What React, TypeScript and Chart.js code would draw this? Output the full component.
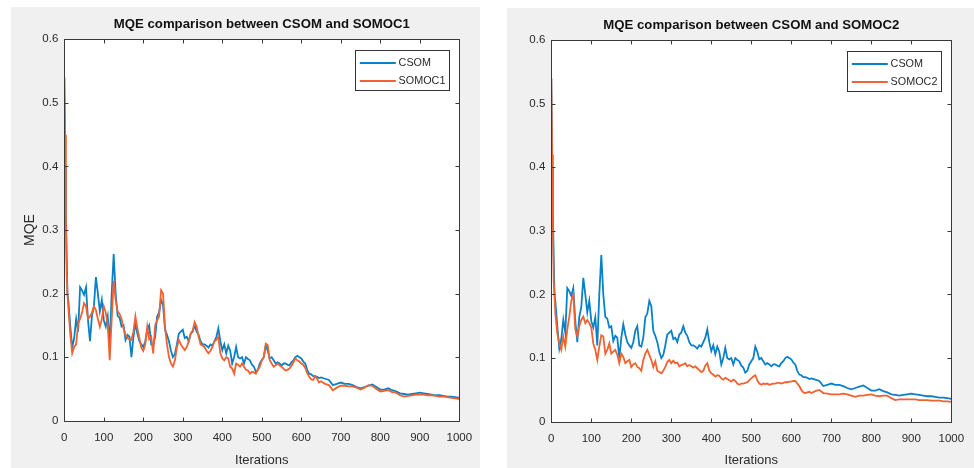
import React, { useEffect, useRef } from 'react';
import { Chart, registerables } from 'chart.js';

Chart.register(...registerables);

// ---------------- data ----------------
const ITERATIONS = [
  0, 2, 4, 6, 8, 10,
  15, 20, 25, 30, 35, 40, 45, 50, 55, 60,
  65, 70, 75, 80, 85, 90, 95, 100, 105, 110,
  115, 120, 125, 130, 135, 140, 145, 150, 155, 160,
  165, 170, 175, 180, 185, 190, 195, 200, 205, 210,
  215, 220, 225, 230, 235, 240, 245, 250, 255, 260,
  265, 270, 275, 280, 285, 290, 295, 300, 305, 310,
  315, 320, 325, 330, 335, 340, 345, 350, 355, 360,
  365, 370, 375, 380, 385, 390, 395, 400, 405, 410,
  415, 420, 425, 430, 435, 440, 445, 450, 455, 460,
  465, 470, 475, 480, 485, 490, 495, 500, 505, 510,
  515, 520, 525, 530, 535, 540, 545, 550, 555, 560,
  565, 570, 575, 580, 585, 590, 595, 600, 605, 610,
  615, 620, 625, 630, 635, 640, 645, 650,
  660, 670, 680, 690, 700, 710, 720, 730, 740, 750,
  760, 770, 780, 790, 800, 810, 820, 830, 840, 850,
  860, 870, 880, 890, 900, 910, 920, 930, 940, 950,
  960, 970, 980, 990, 1000,
];

const CSOM = [
  0.54, 0.40, 0.33, 0.26, 0.20, 0.19,
  0.15, 0.115, 0.13, 0.16, 0.14, 0.21, 0.205, 0.198, 0.21, 0.158,
  0.125, 0.165, 0.18, 0.226, 0.2, 0.172, 0.19, 0.158, 0.148, 0.164,
  0.12, 0.2, 0.262, 0.2, 0.165, 0.162, 0.148, 0.15, 0.127, 0.135,
  0.132, 0.1, 0.132, 0.153, 0.137, 0.125, 0.12, 0.116, 0.125, 0.143,
  0.15, 0.12, 0.118, 0.132, 0.164, 0.17, 0.19, 0.182, 0.143, 0.135,
  0.125, 0.11, 0.1, 0.105, 0.12, 0.137, 0.14, 0.143, 0.13, 0.132,
  0.125, 0.137, 0.14, 0.15, 0.14, 0.135, 0.125, 0.12, 0.12, 0.118,
  0.115, 0.12, 0.118, 0.125, 0.132, 0.145, 0.125, 0.111, 0.12, 0.106,
  0.118, 0.11, 0.09, 0.1, 0.116, 0.1, 0.098, 0.1, 0.09, 0.1,
  0.097, 0.095, 0.088, 0.085, 0.077, 0.08, 0.09, 0.095, 0.1, 0.118,
  0.11, 0.098, 0.1, 0.095, 0.09, 0.092, 0.09, 0.087, 0.09, 0.09,
  0.088, 0.087, 0.092, 0.095, 0.1, 0.102, 0.1, 0.098, 0.093, 0.09,
  0.08, 0.074, 0.073, 0.07, 0.07, 0.069, 0.067, 0.068,
  0.066, 0.064, 0.056, 0.058, 0.06, 0.058, 0.058, 0.056, 0.053, 0.051,
  0.053, 0.055, 0.057, 0.053, 0.049, 0.049, 0.051, 0.048, 0.046, 0.043,
  0.042, 0.041, 0.042, 0.043, 0.044, 0.043, 0.042, 0.041, 0.04, 0.04,
  0.039, 0.038, 0.038, 0.037, 0.036,
];

const SOMOC1 = [
  0.54, 0.45, 0.32, 0.23, 0.20, 0.18,
  0.137, 0.106, 0.116, 0.12, 0.153, 0.16, 0.17, 0.185, 0.18, 0.16,
  0.164, 0.17, 0.18, 0.174, 0.16, 0.148, 0.16, 0.18, 0.17, 0.15,
  0.095, 0.16, 0.22, 0.19, 0.172, 0.168, 0.16, 0.145, 0.135, 0.13,
  0.128, 0.127, 0.14, 0.164, 0.145, 0.13, 0.115, 0.11, 0.12, 0.148,
  0.128, 0.132, 0.106, 0.15, 0.158, 0.164, 0.205, 0.2, 0.148, 0.12,
  0.1, 0.09, 0.085, 0.095, 0.115, 0.127, 0.12, 0.115, 0.111, 0.116,
  0.125, 0.137, 0.142, 0.155, 0.148, 0.132, 0.12, 0.118, 0.116, 0.11,
  0.106, 0.11, 0.116, 0.125, 0.127, 0.132, 0.106, 0.098, 0.095, 0.1,
  0.098, 0.085, 0.082, 0.074, 0.09, 0.088, 0.085, 0.09, 0.085, 0.08,
  0.079, 0.074, 0.077, 0.076, 0.074, 0.08, 0.085, 0.095, 0.1, 0.121,
  0.119, 0.095, 0.09, 0.085, 0.087, 0.09, 0.087, 0.085, 0.082, 0.079,
  0.08, 0.082, 0.086, 0.092, 0.098, 0.095, 0.093, 0.09, 0.088, 0.083,
  0.075, 0.069, 0.065, 0.064, 0.07, 0.066, 0.06, 0.062,
  0.058, 0.056, 0.048, 0.052, 0.055, 0.055, 0.054, 0.054, 0.052, 0.049,
  0.052, 0.056, 0.055, 0.05, 0.046, 0.047, 0.048, 0.045, 0.044, 0.04,
  0.038, 0.039, 0.04, 0.041, 0.041, 0.041, 0.04, 0.04, 0.039, 0.038,
  0.038, 0.037, 0.036, 0.035, 0.034,
];

const SOMOC2 = [
  0.54, 0.42, 0.30, 0.22, 0.20, 0.17,
  0.139, 0.123, 0.113, 0.134, 0.118, 0.145, 0.165, 0.19, 0.2, 0.145,
  0.134, 0.15, 0.16, 0.165, 0.155, 0.16, 0.155, 0.148, 0.123, 0.113,
  0.097, 0.118, 0.136, 0.134, 0.107, 0.113, 0.123, 0.107, 0.11, 0.113,
  0.105, 0.092, 0.107, 0.102, 0.092, 0.095, 0.097, 0.086, 0.09, 0.092,
  0.086, 0.084, 0.08, 0.097, 0.107, 0.113, 0.105, 0.097, 0.086, 0.095,
  0.08, 0.078, 0.076, 0.08, 0.086, 0.094, 0.097, 0.092, 0.096, 0.092,
  0.093, 0.087, 0.089, 0.09, 0.092, 0.087, 0.089, 0.087, 0.085, 0.087,
  0.084, 0.081, 0.078, 0.08, 0.088, 0.092, 0.08, 0.076, 0.074, 0.071,
  0.073, 0.072, 0.068, 0.066, 0.069, 0.067, 0.065, 0.063, 0.066, 0.064,
  0.06, 0.058, 0.06, 0.06, 0.061, 0.062, 0.065, 0.068, 0.071, 0.073,
  0.065, 0.06, 0.058, 0.06, 0.059, 0.06, 0.058, 0.059, 0.06, 0.06,
  0.061, 0.061, 0.06, 0.061, 0.062, 0.062, 0.063, 0.063, 0.064, 0.064,
  0.06, 0.056, 0.05, 0.046, 0.045, 0.046, 0.047, 0.045,
  0.048, 0.05, 0.045, 0.044, 0.043, 0.043, 0.043, 0.044, 0.043, 0.041,
  0.039, 0.041, 0.041, 0.042, 0.043, 0.041, 0.04, 0.041, 0.041, 0.037,
  0.034, 0.035, 0.035, 0.035, 0.035, 0.035, 0.034, 0.034, 0.034, 0.033,
  0.033, 0.033, 0.032, 0.032, 0.031,
];

const X_TICKS = [0, 100, 200, 300, 400, 500, 600, 700, 800, 900, 1000];
const X_TICK_LABELS = ['0', '100', '200', '300', '400', '500', '600', '700', '800', '900', '1000'];
const Y_TICKS = [0, 0.1, 0.2, 0.3, 0.4, 0.5, 0.6];
const Y_TICK_LABELS = ['0', '0.1', '0.2', '0.3', '0.4', '0.5', '0.6'];

const TITLE_1 = 'MQE comparison between CSOM and SOMOC1';
const TITLE_2 = 'MQE comparison between CSOM and SOMOC2';
const X_TITLE = 'Iterations';
const Y_TITLE = 'MQE';

// ---------------- styling ----------------
const FONT = '"Liberation Sans", Arial, Helvetica, sans-serif';
const BLUE = '#0a80c8';
const ORANGE = '#f0622f';
const TEXT = '#2a2a2a';
const AXIS = '#3a3a3a';

type PanelProps = {
  left: number;
  top: number;
  width: number;
  height: number;
  title: string;
  otherLabel: string;
  otherValues: number[];
  showYTitle: boolean;
  padLeft: number;
  yWidth: number;
  xHeight: number;
  padTop: number;
  padRight: number;
};

function Panel(p: PanelProps) {
  const ref = useRef<HTMLCanvasElement | null>(null);

  useEffect(() => {
    if (!ref.current) return;

    const decor = {
      id: 'decor',
      beforeDraw(chart: any) {
        const { ctx, chartArea: ca } = chart;
        ctx.save();
        ctx.fillStyle = '#ffffff';
        ctx.fillRect(ca.left, ca.top, ca.right - ca.left, ca.bottom - ca.top);
        ctx.restore();
      },
      afterDraw(chart: any) {
        const { ctx, chartArea: ca } = chart;
        const xs = chart.scales.x;
        const ys = chart.scales.y;
        ctx.save();
        // frame
        ctx.strokeStyle = AXIS;
        ctx.lineWidth = 1;
        const L = Math.round(ca.left) + 0.5;
        const R = Math.round(ca.right) + 0.5;
        const T = Math.round(ca.top) + 0.5;
        const B = Math.round(ca.bottom) + 0.5;
        ctx.strokeRect(L, T, R - L, B - T);
        // inward ticks on all sides
        const tl = 4;
        ctx.beginPath();
        X_TICKS.forEach((v) => {
          const x = Math.round(xs.getPixelForValue(v)) + 0.5;
          ctx.moveTo(x, B);
          ctx.lineTo(x, B - tl);
          ctx.moveTo(x, T);
          ctx.lineTo(x, T + tl);
        });
        Y_TICKS.forEach((v) => {
          const y = Math.round(ys.getPixelForValue(v)) + 0.5;
          ctx.moveTo(L, y);
          ctx.lineTo(L + tl, y);
          ctx.moveTo(R, y);
          ctx.lineTo(R - tl, y);
        });
        ctx.stroke();

        // title
        ctx.fillStyle = '#111111';
        ctx.font = 'bold 13.2px ' + FONT;
        ctx.textAlign = 'center';
        ctx.textBaseline = 'middle';
        ctx.fillText(p.title, (ca.left + ca.right) / 2, ca.top - 14.5);

        // legend box
        ctx.font = '10.8px ' + FONT;
        const ds = chart.data.datasets;
        const textW = Math.max(...ds.map((d: any) => ctx.measureText(d.label).width));
        const padL = 4.3;
        const lineLen = 36;
        const gap = 2.8;
        const padR = 5;
        const w = padL + lineLen + gap + textW + padR;
        const h = 40;
        const right = Math.round(ca.right - 10) + 0.5;
        const top = Math.round(ca.top + 11) + 0.5;
        const left = Math.round(right - w) + 0.5;
        ctx.fillStyle = '#ffffff';
        ctx.fillRect(left, top, right - left, h);
        ctx.strokeStyle = '#333333';
        ctx.lineWidth = 1;
        ctx.strokeRect(left, top, right - left, h);
        ds.forEach((d: any, i: number) => {
          const y = top + 12.5 + i * 18;
          ctx.strokeStyle = d.borderColor;
          ctx.lineWidth = 1.8;
          ctx.beginPath();
          ctx.moveTo(left + padL, y);
          ctx.lineTo(left + padL + lineLen, y);
          ctx.stroke();
          ctx.fillStyle = TEXT;
          ctx.textAlign = 'left';
          ctx.textBaseline = 'middle';
          ctx.fillText(d.label, left + padL + lineLen + gap, y + 0.5);
        });
        ctx.restore();
      },
    };

    const chart = new Chart(ref.current, {
      type: 'line',
      data: {
        datasets: [
          {
            label: 'CSOM',
            data: ITERATIONS.map((x, i) => ({ x, y: CSOM[i] })),
            borderColor: BLUE,
            borderWidth: 1.8,
            pointRadius: 0,
            tension: 0,
            order: 1,
          },
          {
            label: p.otherLabel,
            data: ITERATIONS.map((x, i) => ({ x, y: p.otherValues[i] })),
            borderColor: ORANGE,
            borderWidth: 1.8,
            pointRadius: 0,
            tension: 0,
            order: 0,
          },
        ],
      },
      options: {
        animation: false,
        responsive: false,
        maintainAspectRatio: false,
        devicePixelRatio: 1,
        events: [],
        layout: { padding: { left: p.padLeft, right: p.padRight, top: p.padTop, bottom: 0 } },
        plugins: {
          legend: { display: false },
          title: { display: false },
          tooltip: { enabled: false },
        },
        scales: {
          x: {
            type: 'linear',
            min: 0,
            max: 1000,
            afterBuildTicks: (s: any) => {
              s.ticks = X_TICKS.map((v) => ({ value: v }));
            },
            afterFit: (s: any) => {
              s.height = p.xHeight;
              s.paddingLeft = 0;
              s.paddingRight = 0;
            },
            grid: { display: false, drawTicks: false },
            border: { display: false },
            ticks: {
              autoSkip: false,
              maxRotation: 0,
              padding: 10,
              color: TEXT,
              font: { family: FONT, size: 11.5 },
              callback: (v: any) => X_TICK_LABELS[X_TICKS.indexOf(Number(v))] ?? '',
            },
            title: {
              display: true,
              text: X_TITLE,
              color: TEXT,
              font: { family: FONT, size: 13 },
              padding: { top: 0, bottom: 0 },
            },
          },
          y: {
            type: 'linear',
            min: 0,
            max: 0.6,
            afterBuildTicks: (s: any) => {
              s.ticks = Y_TICKS.map((v) => ({ value: v }));
            },
            afterFit: (s: any) => {
              s.width = p.yWidth;
              s.paddingTop = 0;
              s.paddingBottom = 0;
            },
            grid: { display: false, drawTicks: false },
            border: { display: false },
            ticks: {
              autoSkip: false,
              padding: 6,
              color: TEXT,
              font: { family: FONT, size: 11.5 },
              callback: (v: any) => {
                const idx = Y_TICKS.findIndex((t) => Math.abs(t - Number(v)) < 1e-9);
                return idx >= 0 ? Y_TICK_LABELS[idx] : '';
              },
            },
            title: {
              display: p.showYTitle,
              text: Y_TITLE,
              color: TEXT,
              font: { family: FONT, size: 14 },
              padding: { top: 0.6, bottom: 0 },
            },
          },
        },
      },
      plugins: [decor],
    } as any);

    return () => chart.destroy();
  }, []);

  return (
    <div
      style={{
        position: 'absolute',
        left: p.left,
        top: p.top,
        width: p.width,
        height: p.height,
        background: '#f0f0f0',
      }}
    >
      <canvas
        ref={ref}
        width={p.width}
        height={p.height}
        style={{ display: 'block', width: p.width, height: p.height }}
      />
    </div>
  );
}

export default function App() {
  return (
    <div
      style={{
        position: 'absolute',
        left: 0,
        top: 0,
        width: 974,
        height: 468,
        background: '#ffffff',
        overflow: 'hidden',
      }}
    >
      <Panel
        left={11}
        top={7}
        width={469}
        height={461}
        title={TITLE_1}
        otherLabel="SOMOC1"
        otherValues={SOMOC1}
        showYTitle={true}
        padLeft={10}
        yWidth={43.3}
        xHeight={47.3}
        padTop={32.3}
        padRight={20.7}
      />
      <Panel
        left={507}
        top={8}
        width={467}
        height={460}
        title={TITLE_2}
        otherLabel="SOMOC2"
        otherValues={SOMOC2}
        showYTitle={false}
        padLeft={0}
        yWidth={44.3}
        xHeight={46.3}
        padTop={32}
        padRight={22.7}
      />
    </div>
  );
}
